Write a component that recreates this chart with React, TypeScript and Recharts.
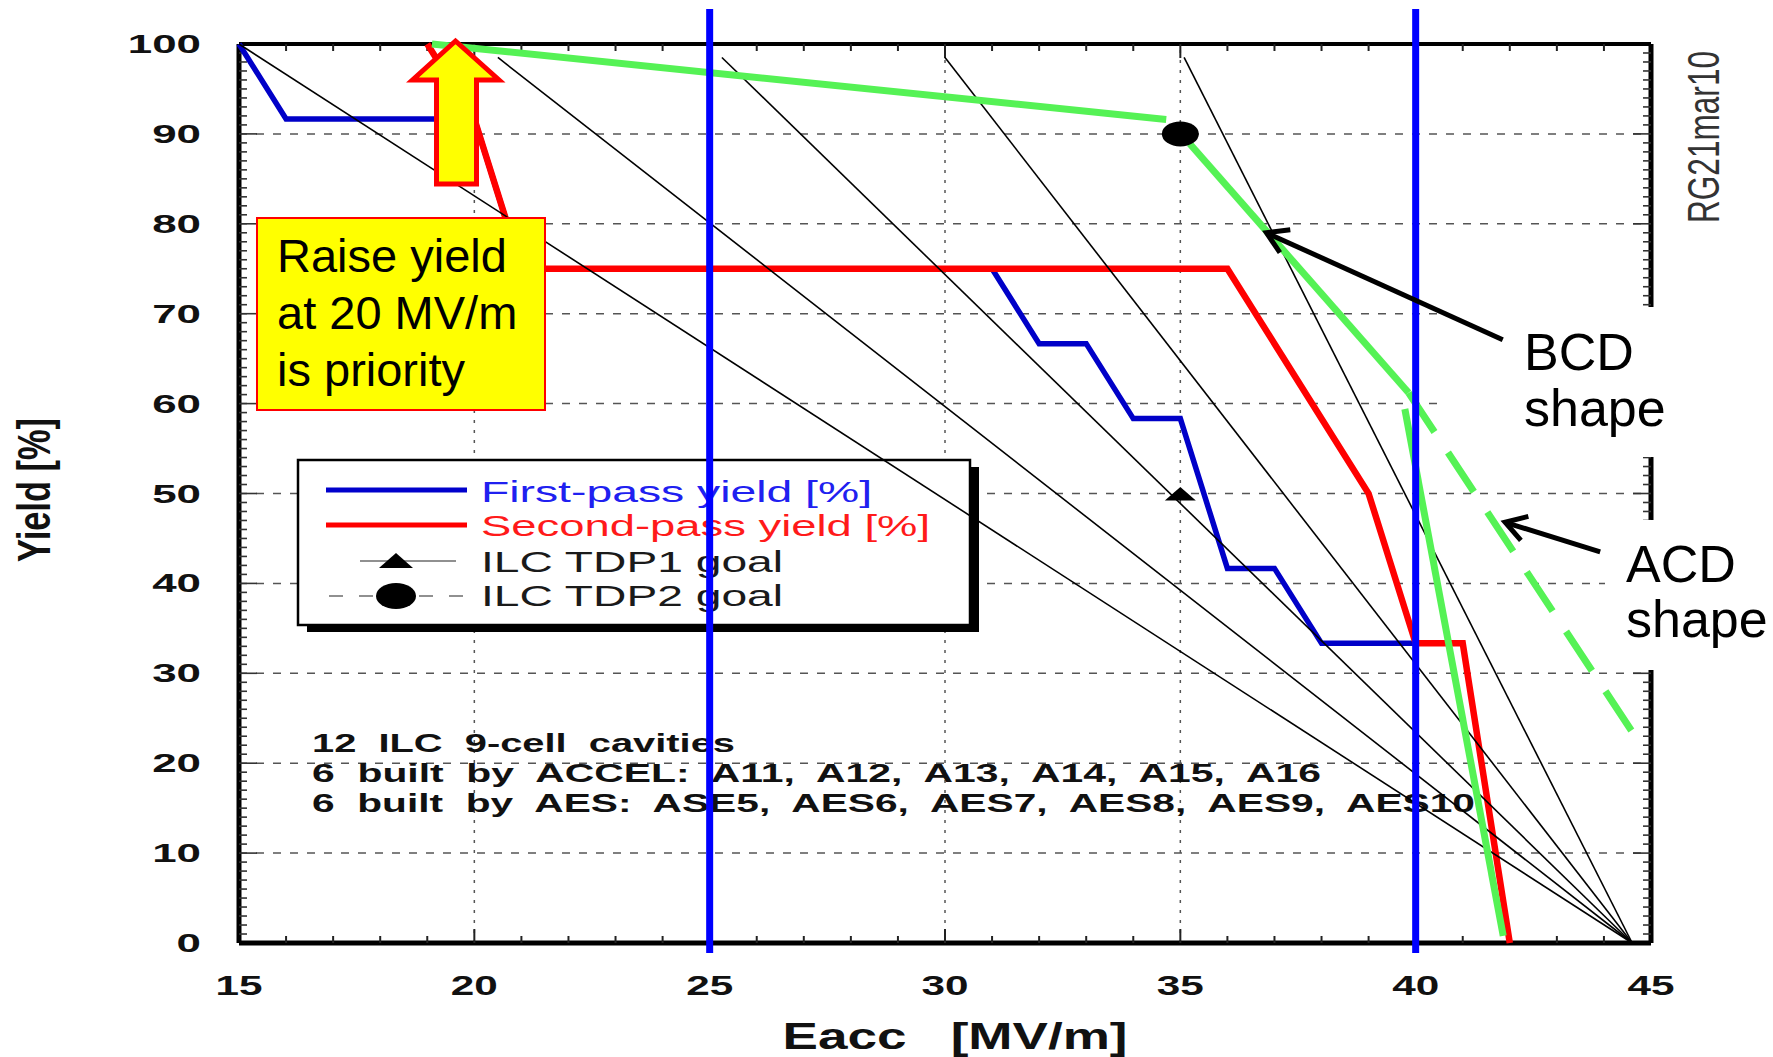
import React from 'react';
import { ComposedChart, Line, Scatter, XAxis, YAxis, ReferenceLine, ReferenceDot } from 'recharts';

const W = 1773;
const H = 1057;
const FONT = '"Liberation Sans", Arial, Helvetica, sans-serif';

// plot box ends up at x 239..1651, y 44..943
const LEFT_W = 100;
const BOTTOM_H = 60;
const EDGE = 20;
const marginA = { top: 24, right: 102, bottom: 54, left: 139 };
const marginB = { top: 44, right: 122, bottom: 54, left: 139 };

const xDomain = [15, 45];
const yDomain = [0, 100];
const xTickLabels = [15, 20, 25, 30, 35, 40, 45];
const yTickLabels = [0, 10, 20, 30, 40, 50, 60, 70, 80, 90, 100];
const xGridValues = [20, 25, 30, 35, 40];
const yGridValues = [10, 20, 30, 40, 50, 60, 70, 80, 90];

const xMinorTicks: number[] = [];
for (let v = 15; v <= 45; v++) xMinorTicks.push(v);
const yMinorTicks: number[] = [];
for (let v = 0; v <= 100; v++) yMinorTicks.push(v);

// yield curves (12 cavities -> steps of 8.33 %)
const firstPass = [
  { x: 15, y: 100 }, { x: 16, y: 91.67 }, { x: 20, y: 91.67 }, { x: 21, y: 75 },
  { x: 31, y: 75 }, { x: 32, y: 66.67 }, { x: 33, y: 66.67 }, { x: 34, y: 58.33 },
  { x: 35, y: 58.33 }, { x: 36, y: 41.67 }, { x: 37, y: 41.67 }, { x: 38, y: 33.33 },
  { x: 40, y: 33.33 },
];
const secondPass = [
  { x: 19, y: 100 }, { x: 20, y: 91.67 }, { x: 21, y: 75 }, { x: 36, y: 75 },
  { x: 39, y: 50 }, { x: 40, y: 33.33 }, { x: 41, y: 33.33 }, { x: 42, y: 0 },
];
const tdp1Goal = [{ x: 35, y: 50 }];
const tdp2Goal = [{ x: 35, y: 90 }];

// hand-drawn green shapes
const bcdUpper = [{ x: 19.1, y: 100 }, { x: 34.7, y: 91.6 }];
const bcdLower = [{ x: 35.2, y: 88.9 }, { x: 39.85, y: 61.2 }];
const bcdDrop = [{ x: 39.77, y: 59.4 }, { x: 41.86, y: 0.8 }];
const acdTail = [{ x: 39.85, y: 61.2 }, { x: 44.6, y: 23.5 }];

// fan of thin lines to (44.6, 0)
const fanStarts = [
  { x: 15, y: 100 }, { x: 20.5, y: 98.5 }, { x: 25.26, y: 98.5 }, { x: 30, y: 98.5 }, { x: 35.08, y: 98.5 },
];
const fanEnd = { x: 44.6, y: 0 };
const fanLines = fanStarts.map((s) => [s, fanEnd]);

const markerLines = [25, 40];
const bcdArrow = [{ x: 41.85, y: 67.1 }, { x: 36.83, y: 79.0 }];
const acdArrow = [{ x: 43.92, y: 43.5 }, { x: 41.9, y: 46.8 }];
const priorityPoint = { x: 19.6, y: 100 };

const tickFont = { fontFamily: FONT, fontWeight: 700, fill: '#111' };

function BottomTick(props: any) {
  const { x, y, payload } = props;
  const v = payload.value;
  const isLabel = xTickLabels.includes(v);
  const edge = v === 15 || v === 45;
  return (
    <g>
      {!edge && <line x1={x} x2={x} y1={y} y2={y - (isLabel ? 14 : 7)} stroke="#222" strokeWidth={2} />}
      {isLabel && (
        <text x={x} y={y + 52} textAnchor="middle" fontSize={28} textLength={47} lengthAdjust="spacingAndGlyphs" {...tickFont}>
          {v}
        </text>
      )}
    </g>
  );
}

function TopTick(props: any) {
  const { x, y, payload } = props;
  const v = payload.value;
  if (v === 15 || v === 45) return <g />;
  return <line x1={x} x2={x} y1={y} y2={y + (v % 5 === 0 ? 14 : 7)} stroke="#222" strokeWidth={2} />;
}

function LeftTick(props: any) {
  const { x, y, payload } = props;
  const v = payload.value;
  const isLabel = yTickLabels.includes(v);
  const label = String(v);
  return (
    <g>
      {v > 0 && v < 100 && <line x1={x} x2={x + (isLabel ? 18 : 8)} y1={y} y2={y} stroke="#333" strokeWidth={1.6} />}
      {isLabel && (
        <text x={x - 38} y={y + 9} textAnchor="end" fontSize={26} textLength={label.length * 24.4} lengthAdjust="spacingAndGlyphs" {...tickFont}>
          {label}
        </text>
      )}
    </g>
  );
}

function RightTick(props: any) {
  const { x, y, payload } = props;
  const v = payload.value;
  if (v === 0 || v === 100) return <g />;
  return <line x1={x} x2={x - (v % 10 === 0 ? 18 : 8)} y1={y} y2={y} stroke="#333" strokeWidth={1.6} />;
}

function Arrow(props: any) {
  const { x1, y1, x2, y2 } = props;
  const ang = Math.atan2(y1 - y2, x1 - x2);
  const len = 24;
  const a1 = ang + 0.55;
  const a2 = ang - 0.55;
  const pts = `${x2 + len * Math.cos(a1)},${y2 + len * Math.sin(a1)} ${x2},${y2} ${x2 + len * Math.cos(a2)},${y2 + len * Math.sin(a2)}`;
  return (
    <g>
      <line x1={x1} y1={y1} x2={x2} y2={y2} stroke="#000" strokeWidth={5} />
      <polyline points={pts} fill="none" stroke="#000" strokeWidth={5} strokeLinejoin="miter" />
    </g>
  );
}

function YellowArrow({ cx, cy }: any) {
  const pts = [
    [0, -3], [43.5, 36], [21, 36], [21, 140], [-19, 140], [-19, 36], [-43, 36],
  ].map(([dx, dy]) => `${cx + dx},${cy + dy}`).join(' ');
  return <polygon points={pts} fill="#ffff00" stroke="#ff0000" strokeWidth={5} strokeLinejoin="miter" />;
}

const layer: React.CSSProperties = { position: 'absolute', left: 0, top: 0 };

export default function App() {
  const hiddenX = (
    <XAxis type="number" dataKey="x" domain={xDomain} height={BOTTOM_H} tick={false} axisLine={false} tickLine={false} />
  );
  const hiddenY = (
    <YAxis type="number" dataKey="y" domain={yDomain} width={LEFT_W} tick={false} axisLine={false} tickLine={false} />
  );
  return (
    <div style={{ position: 'absolute', left: 0, top: 0, width: W, height: H, background: '#fff', overflow: 'hidden' }}>
      {/* frame, ticks and grid */}
      <div style={layer}>
        <ComposedChart width={W} height={H} margin={marginA} data={firstPass}>
          <XAxis xAxisId="bottom" type="number" dataKey="x" domain={xDomain} allowDataOverflow ticks={xMinorTicks} interval={0}
            tickSize={0} tickMargin={0} tickLine={false} height={BOTTOM_H} axisLine={{ stroke: '#000', strokeWidth: 5 }}
            tick={(p: any) => <BottomTick {...p} />} />
          <XAxis xAxisId="top" orientation="top" type="number" dataKey="x" domain={xDomain} allowDataOverflow ticks={xMinorTicks} interval={0}
            tickSize={0} tickMargin={0} tickLine={false} height={EDGE} axisLine={{ stroke: '#000', strokeWidth: 4 }}
            tick={(p: any) => <TopTick {...p} />} />
          <YAxis yAxisId="left" type="number" dataKey="y" domain={yDomain} allowDataOverflow ticks={yMinorTicks} interval={0}
            tickSize={0} tickMargin={0} tickLine={false} width={LEFT_W} axisLine={{ stroke: '#000', strokeWidth: 5 }}
            tick={(p: any) => <LeftTick {...p} />} />
          <YAxis yAxisId="right" orientation="right" type="number" dataKey="y" domain={yDomain} allowDataOverflow ticks={yMinorTicks} interval={0}
            tickSize={0} tickMargin={0} tickLine={false} width={EDGE} axisLine={{ stroke: '#000', strokeWidth: 5 }}
            tick={(p: any) => <RightTick {...p} />} />
          {yGridValues.map((v) => (
            <ReferenceLine key={'gy' + v} xAxisId="bottom" yAxisId="left" y={v} stroke="#555" strokeWidth={1.5} strokeDasharray="8 9" />
          ))}
          {xGridValues.map((v) => (
            <ReferenceLine key={'gx' + v} xAxisId="bottom" yAxisId="left" x={v} stroke="#555" strokeWidth={1.5} strokeDasharray="3 7" />
          ))}
        </ComposedChart>
      </div>

      {/* legend, notes, titles (under the curves) */}
      <svg width={W} height={H} style={layer}>
        <rect x={1440} y={307} width={333} height={150} fill="#fff" />
        <rect x={1605} y={520} width={168} height={150} fill="#fff" />
        <g fontFamily={FONT} fontSize={52} fill="#000">
          <text x={1524} y={370}>BCD</text>
          <text x={1524} y={426}>shape</text>
          <text x={1626} y={582}>ACD</text>
          <text x={1626} y={637}>shape</text>
        </g>

        <rect x={307} y={467} width={672} height={165} fill="#000" />
        <rect x={298} y={460} width={672} height={165} fill="#fff" stroke="#000" strokeWidth={2.5} />
        <g fontFamily={FONT} fontSize={30}>
          <line x1={326} x2={467} y1={490} y2={490} stroke="#0000cc" strokeWidth={5} />
          <text x={481} y={502} fill="#2020f0" textLength={391} lengthAdjust="spacingAndGlyphs">First-pass yield [%]</text>
          <line x1={326} x2={467} y1={525} y2={525} stroke="#ff0000" strokeWidth={5} />
          <text x={481} y={536} fill="#ff1a1a" textLength={449} lengthAdjust="spacingAndGlyphs">Second-pass yield [%]</text>
          <line x1={360} x2={456} y1={561} y2={561} stroke="#222" strokeWidth={1.2} />
          <polygon points="396,553 413,568 379,568" fill="#000" />
          <text x={481} y={572} fill="#1a1a1a" textLength={302} lengthAdjust="spacingAndGlyphs">ILC TDP1 goal</text>
          <line x1={329} x2={463} y1={596} y2={596} stroke="#222" strokeWidth={1.2} strokeDasharray="14 16" />
          <ellipse cx={396} cy={596} rx={20} ry={13} fill="#000" />
          <text x={481} y={606} fill="#1a1a1a" textLength={302} lengthAdjust="spacingAndGlyphs">ILC TDP2 goal</text>
        </g>

        <g fontFamily={FONT} fontWeight={700} fontSize={26} fill="#111">
          <text x={312} y={752} xmlSpace="preserve" textLength={423} lengthAdjust="spacingAndGlyphs">12  ILC  9-cell  cavities</text>
          <text x={312} y={782} xmlSpace="preserve" textLength={1009} lengthAdjust="spacingAndGlyphs">6  built  by  ACCEL:  A11,  A12,  A13,  A14,  A15,  A16</text>
          <text x={312} y={812} xmlSpace="preserve" textLength={1163} lengthAdjust="spacingAndGlyphs">6  built  by  AES:  ASE5,  AES6,  AES7,  AES8,  AES9,  AES10</text>
        </g>

        <text x={955} y={1049} xmlSpace="preserve" textAnchor="middle" fontFamily={FONT} fontWeight={700} fontSize={36} fill="#111"
          textLength={345} lengthAdjust="spacingAndGlyphs">Eacc   [MV/m]</text>
        <text transform="translate(50,490) rotate(-90) scale(1,1.38)" textAnchor="middle" fontFamily={FONT} fontWeight={700}
          fontSize={34} fill="#111" textLength={144} lengthAdjust="spacingAndGlyphs">Yield [%]</text>
        <text transform="translate(1719,137) rotate(-90) scale(1,1.43)" textAnchor="middle" fontFamily={FONT}
          fontSize={31} fill="#333" textLength={172} lengthAdjust="spacingAndGlyphs">RG21mar10</text>
      </svg>

      {/* curves */}
      <div style={layer}>
        <ComposedChart width={W} height={H} margin={marginB} data={firstPass}>
          {hiddenX}
          {hiddenY}
          <Line data={firstPass} dataKey="y" type="linear" stroke="#0000c8" strokeWidth={5.5} dot={false} activeDot={false} isAnimationActive={false} />
          <Line data={secondPass} dataKey="y" type="linear" stroke="#ff0000" strokeWidth={6.5} dot={false} activeDot={false} isAnimationActive={false} />
          {fanLines.map((d, i) => (
            <Line key={'fan' + i} data={d} dataKey="y" type="linear" stroke="#000" strokeWidth={1.6} dot={false} activeDot={false} isAnimationActive={false} />
          ))}
          <Line data={bcdUpper} dataKey="y" type="linear" stroke="#55f255" strokeWidth={7} dot={false} activeDot={false} isAnimationActive={false} />
          <Line data={bcdLower} dataKey="y" type="linear" stroke="#55f255" strokeWidth={7} dot={false} activeDot={false} isAnimationActive={false} />
          <Line data={bcdDrop} dataKey="y" type="linear" stroke="#55f255" strokeWidth={7} dot={false} activeDot={false} isAnimationActive={false} />
          <Line data={acdTail} dataKey="y" type="linear" stroke="#55f255" strokeWidth={7} strokeDasharray="47 24.5" dot={false} activeDot={false} isAnimationActive={false} />
          <Scatter data={tdp1Goal} dataKey="y" isAnimationActive={false}
            shape={(p: any) => <polygon points={`${p.cx},${p.cy - 6.5} ${p.cx + 15.5},${p.cy + 7} ${p.cx - 15.5},${p.cy + 7}`} fill="#000" />} />
          <Scatter data={tdp2Goal} dataKey="y" isAnimationActive={false}
            shape={(p: any) => <ellipse cx={p.cx} cy={p.cy} rx={18.5} ry={12.5} fill="#000" />} />
        </ComposedChart>
      </div>

      {/* markers added on top */}
      <div style={layer}>
        <ComposedChart width={W} height={H} margin={marginB} data={firstPass}>
          {hiddenX}
          {hiddenY}
          {markerLines.map((v) => (
            <ReferenceLine key={'m' + v} segment={[{ x: v, y: -1.1 }, { x: v, y: 103.9 }]} stroke="#0000ff" strokeWidth={7} ifOverflow="visible" />
          ))}
          <ReferenceLine segment={bcdArrow} ifOverflow="visible" shape={(p: any) => <Arrow {...p} />} />
          <ReferenceLine segment={acdArrow} ifOverflow="visible" shape={(p: any) => <Arrow {...p} />} />
          <ReferenceDot x={priorityPoint.x} y={priorityPoint.y} ifOverflow="visible" shape={(p: any) => <YellowArrow cx={p.cx} cy={p.cy} />} />
        </ComposedChart>
      </div>

      <svg width={W} height={H} style={layer}>
        <rect x={257} y={218} width={288} height={192} fill="#ffff00" stroke="#ff0000" strokeWidth={2} />
        <g fontFamily={FONT} fontSize={47} fill="#000">
          <text x={277} y={272}>Raise yield</text>
          <text x={277} y={329}>at 20 MV/m</text>
          <text x={277} y={386}>is priority</text>
        </g>
      </svg>
    </div>
  );
}
